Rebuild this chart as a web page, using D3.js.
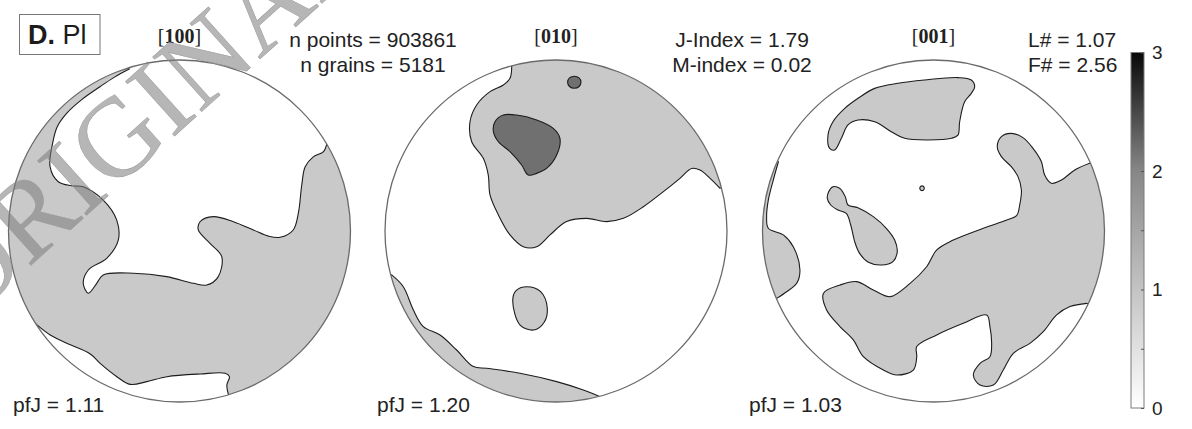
<!DOCTYPE html>
<html>
<head>
<meta charset="utf-8">
<script src="https://cdnjs.cloudflare.com/ajax/libs/d3/7.8.5/d3.min.js"></script>
<style>
body { margin: 0; background: #fff; }
svg { display: block; font-family: "Liberation Sans", Arial, sans-serif; }
</style>
</head>
<body>
<svg id="chart" width="1192" height="429"></svg>
<script>
// labels and indices
var figureAxes = ["100", "010", "001"];
var pfJ = ["1.11", "1.20", "1.03"];
var headerLeft = ["n points = 903861", "n grains = 5181"];
var headerMid = ["J-Index = 1.79", "M-index = 0.02"];
var headerRight = ["L# = 1.07", "F# = 2.56"];

// colour bar
var barTicks = [0, 0.5, 1, 1.5, 2, 2.5, 3];
var barStops = [0, 1, 2, 3];
var barGreys = ["#ffffff", "#c3c3c3", "#878787", "#080808"];

// fill grey for each contour level
var levelGreys = {1: "#c9c9c9", 2: "#707070"};

// contours in % of projection radius (x right, y up).
// open regions: pieces alternate contour / rim, rim points sit outside the circle
var pf100 = [
    {level: 1, pieces: [
        [[-29.4,94.7],[-38,90],[-46.5,84.4],[-57,77],[-66,68.8],[-71.5,61],[-73.8,53.2],[-75.7,37.6],[-70.9,28.8],[-63,26.5],[-56.3,25.9],[-44.6,18.1],[-36.7,6.4],[-35.8,-5.3],[-42.6,-16],[-53.3,-22.8],[-56.3,-30.6],[-53.3,-36.4],[-48.4,-30.6],[-44.6,-25.7],[-27,-24.7],[-7.5,-26.7],[8.1,-30.6],[15.9,-31.6],[22.5,-27],[24.7,-15],[17.8,-7.2],[11,0.6],[12,5.4],[19.8,8.4],[31.5,5.4],[43.2,0.6],[52,-3],[58.8,-3.7],[66.5,0.6],[69.5,10.4],[71.5,26.9],[73.5,37.6],[78.4,43.5],[84.2,46.4],[86.2,51.3]],
        [[129,77],[150,0],[150,-150],[43,-144]],
        [[28.7,-95.9],[27.7,-90.1],[29.2,-85.2],[26.7,-83.2],[12.1,-83.6],[-7.4,-85.2],[-19.1,-88.1],[-28.8,-89.7],[-36.6,-85.2],[-46.4,-77.4],[-52.2,-71.9],[-65.9,-65.7],[-75.6,-60.8],[-84.4,-54.0]],
        [[-127,-81],[-150,0],[-150,150],[-44,142]]
    ]}
];

var pf010 = [
    {level: 1, pieces: [
        [[-25.9,96.1],[-26.9,89.3],[-30.8,85.4],[-38.6,81.5],[-46.4,73.7],[-50.3,63.9],[-49.3,52.2],[-42.5,42.5],[-39.6,32.7],[-38.6,21.1],[-33.7,9.4],[-26.9,-2.3],[-19.1,-9.2],[-11.3,-9.2],[-3.5,-2.3],[6.2,5.5],[17.9,7.4],[29.6,5.5],[39.4,7.4],[51.1,14.2],[62.8,23.0],[72.5,30.8],[79.3,36.6],[84.2,35.7],[90.1,30.8],[95.9,25.0]],
        [[144,37],[150,150],[-39,144]]
    ]},
    {level: 1, pieces: [
        [[-96.1,-25.7],[-89.3,-32.6],[-83.4,-46.2],[-77.6,-55.9],[-67.8,-60.8],[-58.1,-69.6],[-48.3,-79.3],[-40.5,-80.3],[-21.1,-83.2],[0.4,-88.1],[16.0,-93.0],[25.7,-96.9]],
        [[39,-145],[-150,-150],[-144,-39]]
    ]},
    {level: 1, ring: [[-17,-32.6],[-9,-35.5],[-5.1,-45],[-7,-53.5],[-13,-57.9],[-21,-55],[-25.3,-41],[-23.5,-35]]},
    {level: 2, ring: [[-35.7,63.9],[-30.8,67.8],[-23.0,67.8],[-11.3,64.9],[-1.6,60.0],[2.3,54.2],[0.4,44.4],[-5.5,36.6],[-11.3,33.7],[-16.2,32.7],[-20.1,38.6],[-26.9,46.4],[-33.7,52.2],[-36.6,58.1]]},
    {level: 2, ring: [[14.6,87],[13.5,89.5],[10.7,90.5],[7.9,89.5],[6.8,87],[7.9,84.5],[10.7,83.5],[13.5,84.5]]}
];

var pf001 = [
    {level: 1, ring: [[-60.7,48.3],[-61.7,56.1],[-58.8,63.9],[-51.9,71.7],[-44.1,77.6],[-34.4,83.4],[-20.8,86.4],[-5.2,88.3],[14.3,89.7],[22.1,88.3],[24.1,84.4],[22.1,80.5],[18.2,75.6],[15.3,63.9],[14.3,56.1],[10.4,54.2],[-3.2,53.2],[-16.9,54.2],[-24.7,58.1],[-34.4,63.9],[-44.1,64.9],[-50.0,62.0],[-53.9,54.2],[-57.8,47.4]]},
    {level: 1, pieces: [
        [[91.3,39.6],[82.6,35.7],[74.8,29.8],[68.9,27.9],[65.0,32.7],[63.1,40.5],[58.2,48.3],[52.3,54.6],[45.5,57.1],[39.7,55.2],[37.3,49.3],[39.7,43.5],[45.5,37.6],[49.4,31.8],[51.4,24.0],[50.4,15.2],[48.6,9.0],[42.8,6.4],[29.1,1.6],[11.6,-5.3],[1.9,-11.1],[-4.0,-20.9],[-13.7,-30.6],[-25.4,-38.4],[-35.2,-34.5],[-44.9,-29.6],[-54.7,-31.6],[-64.4,-36.5],[-62.5,-46.2],[-54.7,-55.9],[-46.9,-63.7],[-41.0,-73.5],[-29.3,-81.3],[-21.5,-84.2],[-11.8,-81.3],[-9.8,-73.5],[-9.8,-67.6],[1.9,-60.8],[17.4,-54.0],[31.1,-49.1],[33.0,-55.9],[34.0,-65.7],[33.0,-73.5],[27.2,-77.4],[23.3,-84.2],[27.2,-90.1],[35.0,-90.1],[40.8,-81.3],[46.7,-71.5],[56.4,-65.7],[64.2,-58.9],[72.0,-49.1],[79.8,-44.2],[89.6,-42.3]],
        [[134,-63],[150,0],[137,59]]
    ]},
    {level: 1, pieces: [
        [[-90.7,40.5],[-93.7,29.8],[-96.6,18.1],[-97.6,8.4],[-96.6,1.6],[-87.8,-2.3],[-82.0,-9.2],[-78.1,-22.8],[-80.0,-30.6],[-85.9,-35.5],[-91.7,-39.4]],
        [[-138,-59],[-150,0],[-136,61]]
    ]},
    {level: 1, ring: [[-61.3,23.0],[-58.8,25.9],[-54.9,25.0],[-51.6,20.1],[-50.0,15.2],[-44.2,13.6],[-35.2,8.4],[-27.6,1.6],[-22.7,-5.3],[-21.2,-12.1],[-23.7,-17.9],[-30.5,-19.9],[-38.1,-18.3],[-43.2,-13.1],[-46.1,-6.2],[-48.4,3.5],[-51.0,10.3],[-55.9,12.3],[-60.1,15.2],[-62.1,19.1]]},
    {level: 1, ring: [[-5.4,25],[-6.0,26.2],[-7.4,26.2],[-8.0,25],[-7.4,23.8],[-6.0,23.8]]}
];

var figures = [pf100, pf010, pf001];
var centersX = [179.5, 556, 933.5];
var centerY = 231;
var radius = 171;

var svg = d3.select("#chart");

function regionPath(region, x, y) {
    var line = d3.line()
        .x(function(d){ return x(d[0]); })
        .y(function(d){ return y(d[1]); })
        .curve(d3.curveCatmullRom.alpha(0.5));
    if (region.ring) {
        return line.curve(d3.curveCatmullRomClosed.alpha(0.5))(region.ring);
    }
    var path = "";
    region.pieces.forEach(function(piece, k){
        if (k % 2 === 0) {
            var p = line(piece);
            path += (k === 0) ? p : "L" + p.slice(1);
        } else {
            piece.forEach(function(pt){
                path += "L" + x(pt[0]) + "," + y(pt[1]);
            });
        }
    });
    return path + "Z";
}

function drawFigure(data, i) {
    var cx = centersX[i];
    var x = d3.scaleLinear().domain([-100, 100]).range([cx - radius, cx + radius]);
    var y = d3.scaleLinear().domain([-100, 100]).range([centerY + radius, centerY - radius]);

    svg.append("clipPath")
        .attr("id", "clip_" + i)
        .append("circle")
        .attr("cx", x(0))
        .attr("cy", y(0))
        .attr("r", x(100) - x(0));

    var g = svg.append("g")
        .attr("clip-path", "url(#clip_" + i + ")");

    g.append("circle")
        .attr("cx", x(0))
        .attr("cy", y(0))
        .attr("r", x(100) - x(0))
        .style("fill", "#fff");

    g.selectAll("path.fill")
        .data(data)
        .enter()
        .append("path")
        .attr("class", "fill")
        .attr("d", function(d){ return regionPath(d, x, y); })
        .style("fill", function(d){ return levelGreys[d.level]; })
        .style("stroke", "#1c1c1c")
        .style("stroke-width", 1.1);

    svg.append("circle")
        .attr("cx", x(0))
        .attr("cy", y(0))
        .attr("r", x(100) - x(0))
        .style("fill", "none")
        .style("stroke", "#6a6a6a")
        .style("stroke-width", 1.3);

    var t = svg.append("text")
        .attr("x", x(0))
        .attr("y", 42.5)
        .attr("text-anchor", "middle")
        .style("font-family", "'Liberation Serif', 'Times New Roman', serif")
        .style("font-size", "20px")
        .style("fill", "#222");
    t.append("tspan").text("[");
    t.append("tspan").style("font-weight", "bold").text(figureAxes[i]);
    t.append("tspan").text("]");
}

figures.forEach(drawFigure);

// pfJ labels under each figure
var pfJx = [13, 377, 749];
svg.selectAll("text.pfj")
    .data(pfJ)
    .enter()
    .append("text")
    .attr("class", "pfj")
    .attr("x", function(d, i){ return pfJx[i]; })
    .attr("y", 411.5)
    .style("font-size", "21px")
    .style("fill", "#222")
    .text(function(d){ return "pfJ = " + d; });

// header blocks
function headerBlock(lines, xPos, anchor) {
    svg.append("g").selectAll("text")
        .data(lines)
        .enter()
        .append("text")
        .attr("x", xPos)
        .attr("y", function(d, i){ return 46.5 + i * 25.3; })
        .attr("text-anchor", anchor)
        .style("font-size", "21px")
        .style("fill", "#222")
        .text(function(d){ return d; });
}
headerBlock(headerLeft, 373, "middle");
headerBlock(headerMid, 742, "middle");
headerBlock(headerRight, 1028, "start");

// panel tag
svg.append("rect")
    .attr("x", 19.5)
    .attr("y", 14.5)
    .attr("width", 80.5)
    .attr("height", 40)
    .style("fill", "#fff")
    .style("stroke", "#777")
    .style("stroke-width", 1);
var tag = svg.append("text")
    .attr("x", 28)
    .attr("y", 43.5)
    .style("font-size", "27px")
    .style("fill", "#1c1c1c");
tag.append("tspan").style("font-weight", "bold").text("D.");
tag.append("tspan").text(" Pl");

// colour bar
var barScale = d3.scaleLinear().domain([0, 3]).range([408, 52.5]);
var grad = svg.append("defs")
    .append("linearGradient")
    .attr("id", "bargrad")
    .attr("x1", 0).attr("y1", 1)
    .attr("x2", 0).attr("y2", 0);
grad.selectAll("stop")
    .data(barStops)
    .enter()
    .append("stop")
    .attr("offset", function(d){ return d / 3; })
    .attr("stop-color", function(d, i){ return barGreys[i]; });

svg.append("rect")
    .attr("x", 1131)
    .attr("y", barScale(3))
    .attr("width", 13)
    .attr("height", barScale(0) - barScale(3))
    .style("fill", "url(#bargrad)")
    .style("stroke", "#7a7a7a")
    .style("stroke-width", 1);

var barAxis = d3.axisRight(barScale)
    .tickValues(barTicks)
    .tickSizeInner(-3)
    .tickSizeOuter(0)
    .tickPadding(8)
    .tickFormat(function(d){ return Number.isInteger(d) ? d : ""; });

var ax = svg.append("g")
    .attr("transform", "translate(1144,0)")
    .call(barAxis);
ax.select(".domain").remove();
ax.selectAll("line").style("stroke", "#555");
ax.selectAll("text")
    .style("font-size", "19px")
    .style("font-family", "'Liberation Sans', Arial, sans-serif")
    .style("fill", "#222");

// watermark
svg.append("text")
    .attr("transform", "translate(-32,322) rotate(-42)")
    .style("font-family", "'Liberation Serif', 'Times New Roman', serif")
    .style("font-size", "112px")
    .style("fill", "#7a7a7a")
    .style("fill-opacity", 0.55)
    .style("stroke", "#9a9a9a")
    .style("stroke-width", 0.5)
    .text("ORIGINAL");
</script>
</body>
</html>
